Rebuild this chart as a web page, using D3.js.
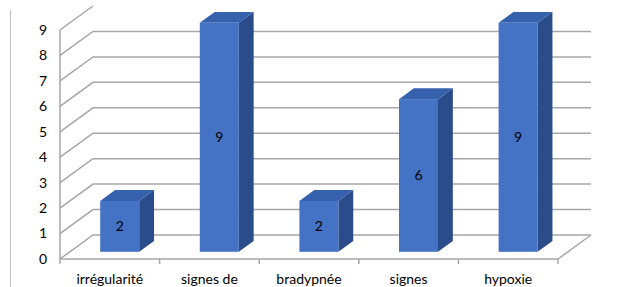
<!DOCTYPE html>
<html>
<head>
<meta charset="utf-8">
<script src="https://d3js.org/d3.v7.min.js"></script>
<style>
  body { margin: 0; background: #fff; }
  svg { display: block; }
  text { font-family: Lato, "Open Sans", sans-serif; font-size: 14px; fill: #000; }
</style>
</head>
<body>
<svg id="chart" width="620" height="287"></svg>
<script>
// data
const categories = ['irrégularité', 'signes de', 'bradypnée', 'signes', 'hypoxie'];
const values = [2, 9, 2, 6, 9];
const yTicks = [0, 1, 2, 3, 4, 5, 6, 7, 8, 9];

const svg = d3.select('#chart');

// front plane of the 3d box, depth offset for the back wall
const depthX = 33, depthY = -24;
const x = d3.scaleBand().domain(categories).range([60, 558]);
const y = d3.scaleLinear().domain([0, 9]).range([259, 30]);

// bars sit between these depth fractions
const f1 = 0.3, f2 = 0.75;
const barW = 39;

const grid = '#a6a6a6';

// chart area border on the left
svg.append('line')
  .attr('x1', 10.5).attr('x2', 10.5).attr('y1', 10).attr('y2', 287)
  .attr('stroke', '#bfbfbf').attr('stroke-width', 1);

// gridlines: diagonal on the side wall, horizontal on the back wall
const g = svg.append('g').attr('fill', 'none').attr('stroke', grid).attr('stroke-width', 1.5);
yTicks.forEach(t => {
  const y0 = y(t);
  const back = y0 + depthY;
  const xL = x.range()[0], xR = x.range()[1];
  const pts = [[xL, y0], [xL + depthX, back]];
  if (back > 8) pts.push([xR + depthX, back]);
  g.append('path').attr('d', d3.line()(pts));
});

// front vertical axis
g.append('line').attr('x1', 60).attr('x2', 60).attr('y1', y(9)).attr('y2', y(0));

// floor
const fy = y(0);
g.append('path').attr('d', d3.line()([
  [60, fy], [558, fy], [558 + depthX, fy + depthY]
]));

// category ticks on the floor edge
x.domain().forEach(c => {
  g.append('line')
    .attr('x1', x(c) + x.bandwidth()).attr('x2', x(c) + x.bandwidth())
    .attr('y1', fy).attr('y2', fy + 5);
});
g.append('line').attr('x1', 60).attr('x2', 60).attr('y1', fy).attr('y2', fy + 5);

// y labels
svg.append('g').selectAll('text').data(yTicks).join('text')
  .attr('x', 47).attr('y', d => y(d)).attr('dy', '0.35em')
  .attr('text-anchor', 'end').text(d => d);

// x labels
svg.append('g').selectAll('text').data(categories).join('text')
  .attr('x', d => x(d) + x.bandwidth() / 2).attr('y', 284)
  .attr('text-anchor', 'middle').text(d => d);

// bars
const bars = svg.append('g').selectAll('g').data(categories.map((c, i) => ({ c, v: values[i] }))).join('g');
bars.each(function (d) {
  const b = d3.select(this);
  const x0 = x(d.c) + (x.bandwidth() - barW) / 2 + depthX * f1;
  const x1 = x0 + barW;
  const yb = y(0) + depthY * f1;
  const yt = y(d.v) + depthY * f1;
  const sx = depthX * (f2 - f1), sy = depthY * (f2 - f1);
  // side
  b.append('path').attr('fill', '#2b4c8a')
    .attr('d', d3.line()([[x1, yb], [x1 + sx, yb + sy], [x1 + sx, yt + sy], [x1, yt]]) + 'Z');
  // top
  b.append('path').attr('fill', '#3561ad')
    .attr('d', d3.line()([[x0, yt], [x0 + sx, yt + sy], [x1 + sx, yt + sy], [x1, yt]]) + 'Z');
  // front
  b.append('rect').attr('x', x0).attr('y', yt).attr('width', barW).attr('height', yb - yt)
    .attr('fill', '#4472c4');
  b.append('text').attr('x', x0 + barW / 2).attr('y', (yt + yb) / 2).attr('dy', '0.35em')
    .attr('text-anchor', 'middle').text(d.v);
});
</script>
</body>
</html>
